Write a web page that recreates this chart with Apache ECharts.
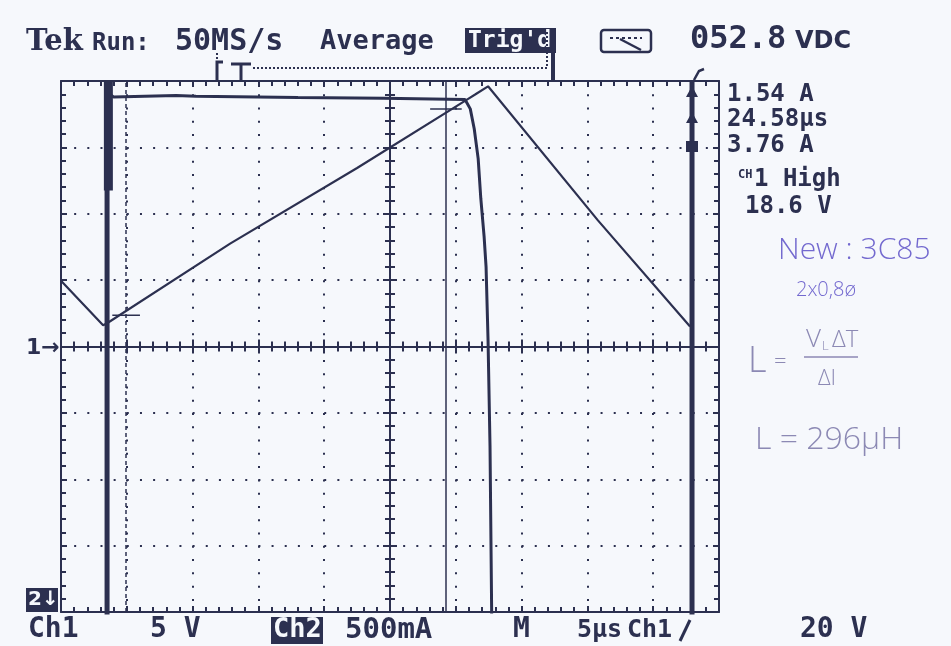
<!DOCTYPE html>
<html>
<head>
<meta charset="utf-8">
<title>Tek scope capture</title>
<script src="https://cdn.jsdelivr.net/npm/echarts@6/dist/echarts.min.js"></script>
<style>
    html, body { margin: 0; padding: 0; background: #f6f8fc; }
    #main { width: 951px; height: 646px; }
</style>
</head>
<body>
<div id="main"></div>
<script>
// traces, in divisions (x 0..10, y -4..4 around Ch1 ground)
var ch1Top = [[0.74, 3.80], [0.80, 3.76], [1.75, 3.78], [2.05, 3.77], [3.6, 3.75],
    [4.9, 3.74], [6.14, 3.72], [6.22, 3.58], [6.28, 3.28], [6.34, 2.83], [6.38, 2.23],
    [6.43, 1.66], [6.46, 1.20], [6.49, 0.10], [6.52, -1.50], [6.55, -4.5]];
var ch1EdgeA = [[0.70, -4.5], [0.70, 4.0]];
var ch1EdgeB = [[9.59, -4.5], [9.59, 4.0]];
var ch1Burst = [[0.72, 2.35], [0.72, 4.0]];
var ch2Amp = [[0, 0.99], [0.64, 0.32], [0.70, 0.35], [2.57, 1.55], [4.5, 2.69], [6.17, 3.72],
    [6.30, 3.80], [6.49, 3.92], [8.16, 1.90], [9.56, 0.30]];
var timeCursors = [0.99, 5.84];
var cursorMarkA = [[0.78, 0.47], [1.20, 0.47]];
var cursorMarkB = [[5.61, 3.58], [6.09, 3.58]];
var readouts = ['1.54 A', '24.58µs', '3.76 A'];
var bottomLabels = ['Ch1', '5 V', '500mA', 'M', '5µs', 'Ch1', '20 V'];

var ink = '#2c3050';
var paper = '#f6f8fc';
var pen = '#7369cf';
var pencil = '#8c89b4';

function axisBase(offset, inside, major, minor) {
    return {
        type: 'value',
        offset: offset,
        axisLine: {show: true, onZero: false, lineStyle: {color: ink, width: 2}},
        axisTick: {show: true, inside: inside, length: major, lineStyle: {color: ink, width: 2}},
        minorTick: {show: true, splitNumber: 5, length: minor, lineStyle: {color: ink, width: 2}},
        axisLabel: {show: false},
        splitLine: {show: false},
        minorSplitLine: {show: false}
    };
}
function xAx(position, offset, inside, major, minor) {
    var a = axisBase(offset, inside, major, minor);
    a.position = position; a.min = 0; a.max = 10; a.interval = 1;
    return a;
}
function yAx(position, offset, inside, major, minor) {
    var a = axisBase(offset, inside, major, minor);
    a.position = position; a.min = -4; a.max = 4; a.interval = 1;
    return a;
}

var xAxes = [
    xAx('bottom', 0, true, 6, 5),
    xAx('top', 0, true, 6, 5),
    xAx('bottom', -265.5, true, 7, 5),
    xAx('bottom', -265.5, false, 7, 5)
];
xAxes[0].splitLine = {show: true, lineStyle: {color: ink, width: 2, type: [2, 11.28]}};
var yAxes = [
    yAx('left', 0, true, 6, 5),
    yAx('right', 0, true, 6, 5),
    yAx('left', -329, true, 7, 5),
    yAx('left', -329, false, 7, 5)
];
yAxes[0].splitLine = {show: true, lineStyle: {color: ink, width: 2, type: [2, 11.16]}};

function txt(x, y, s, font, fill) {
    return {type: 'text', x: x, y: y, z: 10,
        style: {text: s, font: font, fill: fill || ink, verticalAlign: 'middle'}};
}
function seg(pts, w, color, dash) {
    return {type: 'polyline', z: 10, shape: {points: pts},
        style: {stroke: color || ink, lineWidth: w, fill: null, lineDash: dash || null}};
}

var mono = '"DejaVu Sans Mono"';
var graphics = [
    txt(26, 42, 'Tek', 'bold 29px "DejaVu Serif"'),
    txt(92, 44, 'Run:', 'bold 24px ' + mono),
    txt(175, 42, '50MS/s', 'bold 30px ' + mono),
    txt(320, 42, 'Average', 'bold 27px ' + mono),
    {type: 'rect', z: 10, shape: {x: 465, y: 28, width: 91, height: 25}, style: {fill: ink}},
    txt(468, 41, "Trig'd", 'bold 23px ' + mono, paper),
    {type: 'rect', z: 10, shape: {x: 601, y: 30, width: 50, height: 22, r: 3},
        style: {fill: null, stroke: ink, lineWidth: 2.5}},
    seg([[610, 38], [642, 38]], 2, ink, [3, 3]),
    seg([[620, 39], [641, 50]], 2.5),
    txt(690, 40, '052.8', 'bold 32px ' + mono),
    txt(795, 42, 'VDC', 'bold 24px "DejaVu Sans"'),
    // record bracket above the screen
    seg([[217, 53], [217, 63]], 2, ink, [2, 2]),
    seg([[223, 62], [217, 62], [217, 80]], 3),
    seg([[231, 64], [251, 64]], 3),
    seg([[241, 64], [241, 80]], 3),
    seg([[253, 68], [547, 68]], 2, ink, [2, 2]),
    seg([[547, 32], [547, 68]], 2, ink, [2, 2]),
    seg([[553, 52], [553, 80]], 4),
    seg([[694, 80], [699, 71], [704, 69]], 2.5),
    // cursor readouts
    txt(727, 95, readouts[0], 'bold 24px ' + mono),
    txt(727, 120, readouts[1], 'bold 24px ' + mono),
    txt(727, 146, readouts[2], 'bold 24px ' + mono),
    txt(738, 175, 'CH', 'bold 12px ' + mono),
    txt(754, 180, '1 High', 'bold 24px ' + mono),
    txt(745, 207, '18.6 V', 'bold 24px ' + mono),
    {type: 'polygon', z: 10, shape: {points: [[686, 97], [692, 86], [698, 97]]}, style: {fill: ink}},
    {type: 'polygon', z: 10, shape: {points: [[686, 123], [692, 112], [698, 123]]}, style: {fill: ink}},
    {type: 'rect', z: 10, shape: {x: 686, y: 141, width: 12, height: 11}, style: {fill: ink}},
    // channel markers
    txt(26, 348, '1→', 'bold 22px "DejaVu Sans"'),
    {type: 'rect', z: 10, shape: {x: 26, y: 588, width: 32, height: 24}, style: {fill: ink}},
    txt(28, 600, '2↓', 'bold 20px "DejaVu Sans"', paper),
    // bottom status line
    txt(28, 630, bottomLabels[0], 'bold 28px ' + mono),
    txt(150, 630, bottomLabels[1], 'bold 28px ' + mono),
    {type: 'rect', z: 10, shape: {x: 271, y: 617, width: 52, height: 27}, style: {fill: ink}},
    txt(273, 630, 'Ch2', 'bold 27px ' + mono, paper),
    txt(345, 630, bottomLabels[2], 'bold 29px ' + mono),
    txt(513, 630, bottomLabels[3], 'bold 28px ' + mono),
    txt(577, 630, bottomLabels[4], 'bold 25px ' + mono),
    txt(627, 630, bottomLabels[5], 'bold 25px ' + mono),
    seg([[680, 641], [690, 620]], 3),
    txt(800, 630, bottomLabels[6], 'bold 28px ' + mono),
    // handwritten notes
    txt(778, 250, 'New : 3C85', '300 30px "Open Sans"', pen),
    txt(796, 290, '2x0,8ø', '300 20px "Open Sans"', pen),
    txt(748, 362, 'L', '300 36px "Open Sans"', pencil),
    txt(774, 362, '=', '300 22px "Open Sans"', pencil),
    txt(806, 340, 'V', '300 26px "Open Sans"', pencil),
    txt(822, 346, 'L', '300 13px "Open Sans"', pencil),
    txt(832, 340, 'ΔT', '300 24px "Open Sans"', pencil),
    seg([[804, 357], [858, 357]], 1.5, pencil),
    txt(818, 379, 'ΔI', '300 22px "Open Sans"', pencil),
    txt(755, 440, 'L = 296µH', '300 32px "Open Sans"', pencil)
];

var lineSeries = function (data, w) {
    return {type: 'line', data: data, xAxisIndex: 0, yAxisIndex: 0, showSymbol: false,
        symbol: 'none', lineStyle: {color: ink, width: w}, z: 3, silent: true};
};
var ampSeries = lineSeries(ch2Amp, 2.2);
ampSeries.markLine = {
    silent: true, symbol: ['none', 'none'], label: {show: false},
    data: [
        {xAxis: timeCursors[0], lineStyle: {color: ink, width: 1.5, type: [4, 3]}},
        {xAxis: timeCursors[1], lineStyle: {color: ink, width: 1.5, type: 'solid'}}
    ]
};

var option = {
    backgroundColor: paper,
    animation: false,
    grid: {left: 61, top: 81, width: 658, height: 531},
    xAxis: xAxes,
    yAxis: yAxes,
    series: [
        lineSeries(ch1Top, 3),
        lineSeries(ch1EdgeA, 5),
        lineSeries(ch1EdgeB, 5),
        lineSeries(ch1Burst, 9),
        ampSeries,
        lineSeries(cursorMarkA, 1.5),
        lineSeries(cursorMarkB, 1.5)
    ],
    graphic: graphics
};

var myChart = echarts.init(document.getElementById('main'));
myChart.setOption(option);
</script>
</body>
</html>
